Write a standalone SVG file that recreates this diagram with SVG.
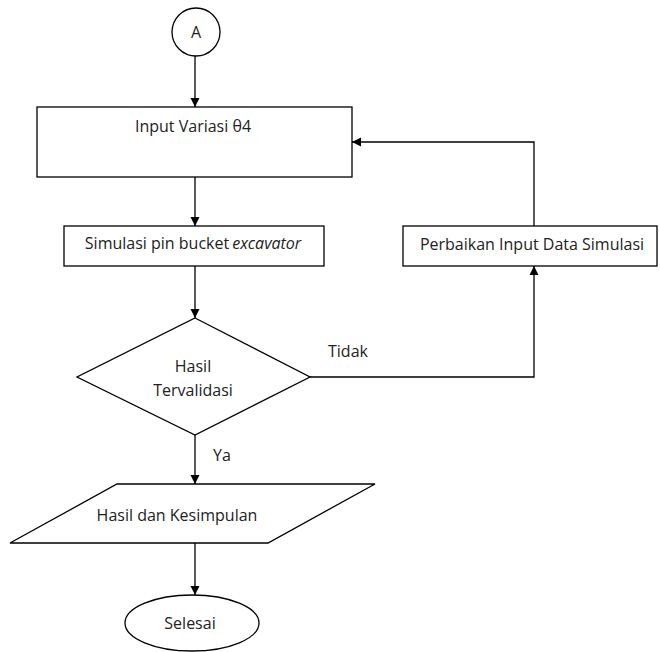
<svg xmlns="http://www.w3.org/2000/svg" width="660" height="652" viewBox="0 0 660 652">
<style>
.s{fill:#fff;stroke:#000;stroke-width:1.3}
.c{fill:none;stroke:#000;stroke-width:1.3}
text{font-family:"Open Sans","Noto Sans",sans-serif;font-size:16px;fill:#222}
.m{text-anchor:middle}
</style>
<defs>
<marker id="ah" markerWidth="10" markerHeight="10" refX="9" refY="5" orient="auto" markerUnits="userSpaceOnUse">
<path d="M0,0.5 L9,5 L0,9.5 Z" fill="#000"/>
</marker>
</defs>
<rect width="660" height="652" fill="#fff"/>
<g id="connectors">
<line class="c" x1="195" y1="56" x2="195" y2="107" marker-end="url(#ah)"/>
<line class="c" x1="195" y1="177" x2="195" y2="226" marker-end="url(#ah)"/>
<line class="c" x1="195" y1="266" x2="195" y2="318" marker-end="url(#ah)"/>
<polyline class="c" points="310,377 534,377 534,266" marker-end="url(#ah)"/>
<polyline class="c" points="534,226 534,142 352,142" marker-end="url(#ah)"/>
<line class="c" x1="195" y1="435" x2="195" y2="484" marker-end="url(#ah)"/>
<line class="c" x1="195" y1="543" x2="195" y2="595" marker-end="url(#ah)"/>
<text x="328" y="357">Tidak</text>
<text x="213" y="461">Ya</text>
</g>
<g id="start">
<circle class="s" cx="196" cy="32" r="24"/>
<text class="m" x="196" y="38">A</text>
</g>
<g id="input">
<rect class="s" x="37" y="107" width="315" height="70"/>
<text class="m" x="193" y="132">Input Variasi θ4</text>
</g>
<g id="simulasi">
<rect class="s" x="64" y="226" width="260" height="40"/>
<text class="m" x="193" y="249">Simulasi pin bucket<tspan font-style="italic" dx="3">excavator</tspan></text>
</g>
<g id="perbaikan">
<rect class="s" x="403" y="226" width="254" height="40"/>
<text class="m" x="532" y="250">Perbaikan Input Data Simulasi</text>
</g>
<g id="decision">
<polygon class="s" points="195,318 310,377 195,435 77,377"/>
<text class="m" x="193" y="372">Hasil</text>
<text class="m" x="193" y="396">Tervalidasi</text>
</g>
<g id="hasil">
<polygon class="s" points="117,484 375,484 268,543 10,543"/>
<text class="m" x="177" y="521">Hasil dan Kesimpulan</text>
</g>
<g id="end">
<ellipse class="s" cx="192" cy="623" rx="67" ry="28"/>
<text class="m" x="190" y="629">Selesai</text>
</g>
</svg>
